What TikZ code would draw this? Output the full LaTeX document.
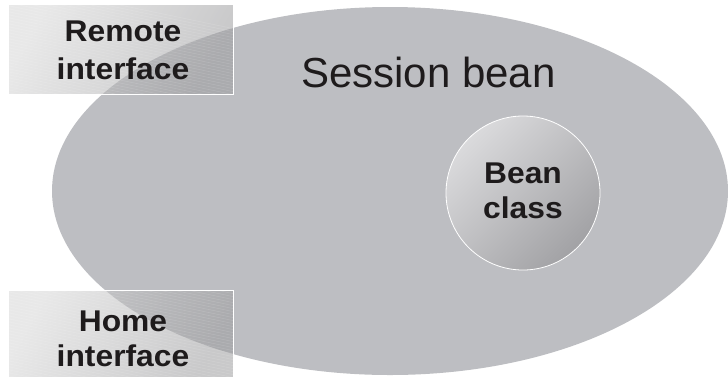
\documentclass[tikz,border=0pt]{standalone}
\usepackage{fontspec}
\setmainfont{Liberation Sans}
\newfontfamily\labelbf{Liberation Sans}[FakeStretch=1.06]
\usetikzlibrary{shapes.geometric}
\definecolor{ellcol}{HTML}{BDBEC2}
\definecolor{txtcol}{HTML}{1E1B1C}
\definecolor{boxlight}{HTML}{D6D6D6}
\definecolor{boxdark}{HTML}{9C9C9E}
\definecolor{beanlight}{HTML}{DADADC}
\definecolor{beandark}{HTML}{A2A2A5}
\tikzset{
  lbl/.style={font=\labelbf\bfseries\fontsize{30}{36}\selectfont, text=txtcol, inner sep=0pt, anchor=base},
  ifbox/.style={top color=boxlight, bottom color=boxdark,
                shading angle=60, fill opacity=0.55, inner sep=0pt},
  ifedge/.style={draw=white, line width=0.8pt},
  stripe/.style={white, line width=0.5pt, opacity=0.14}
}
\begin{document}
\begin{tikzpicture}[x=1pt,y=-1pt]
\useasboundingbox (0,0) rectangle (728,376);
% session bean ellipse
\node[ellipse, fill=ellcol, draw=none, minimum width=676pt, minimum height=368pt, inner sep=0pt] (sess) at (390,191) {};
\node[font=\fontsize{42}{50}\selectfont, text=txtcol, inner sep=0pt, anchor=base] (sesslbl) at (428.5,87) {Session bean};
% bean class circle
\node[circle, draw=white, line width=0.8pt, top color=beanlight, bottom color=beandark, shading angle=45,
      minimum size=154pt, inner sep=0pt] (bean) at (523,193) {};
\node[lbl] (beanA) at (523,183) {Bean};
\node[lbl] (beanB) at (523,218) {class};
% remote interface box
\path[ifbox] (8,4) rectangle (233,94);
\begin{scope}
  \clip (8,4) rectangle (233,94);
  \foreach \k in {-20,-17,...,160}{
    \draw[stripe] (0,\k) -- (240,\k+50);
  }
\end{scope}
\draw[ifedge] (8,4) rectangle (233,94);
\node[lbl] (remA) at (123,41) {Remote};
\node[lbl] (remB) at (123,79) {interface};
% home interface box
\path[ifbox] (8,290) rectangle (233,380);
\begin{scope}
  \clip (8,290) rectangle (233,380);
  \foreach \k in {230,233,...,400}{
    \draw[stripe] (0,\k) -- (240,\k+50);
  }
\end{scope}
\draw[ifedge] (8,290) rectangle (233,380);
\node[lbl] (homeA) at (123,331) {Home};
\node[lbl] (homeB) at (123,366) {interface};
\end{tikzpicture}
\end{document}
